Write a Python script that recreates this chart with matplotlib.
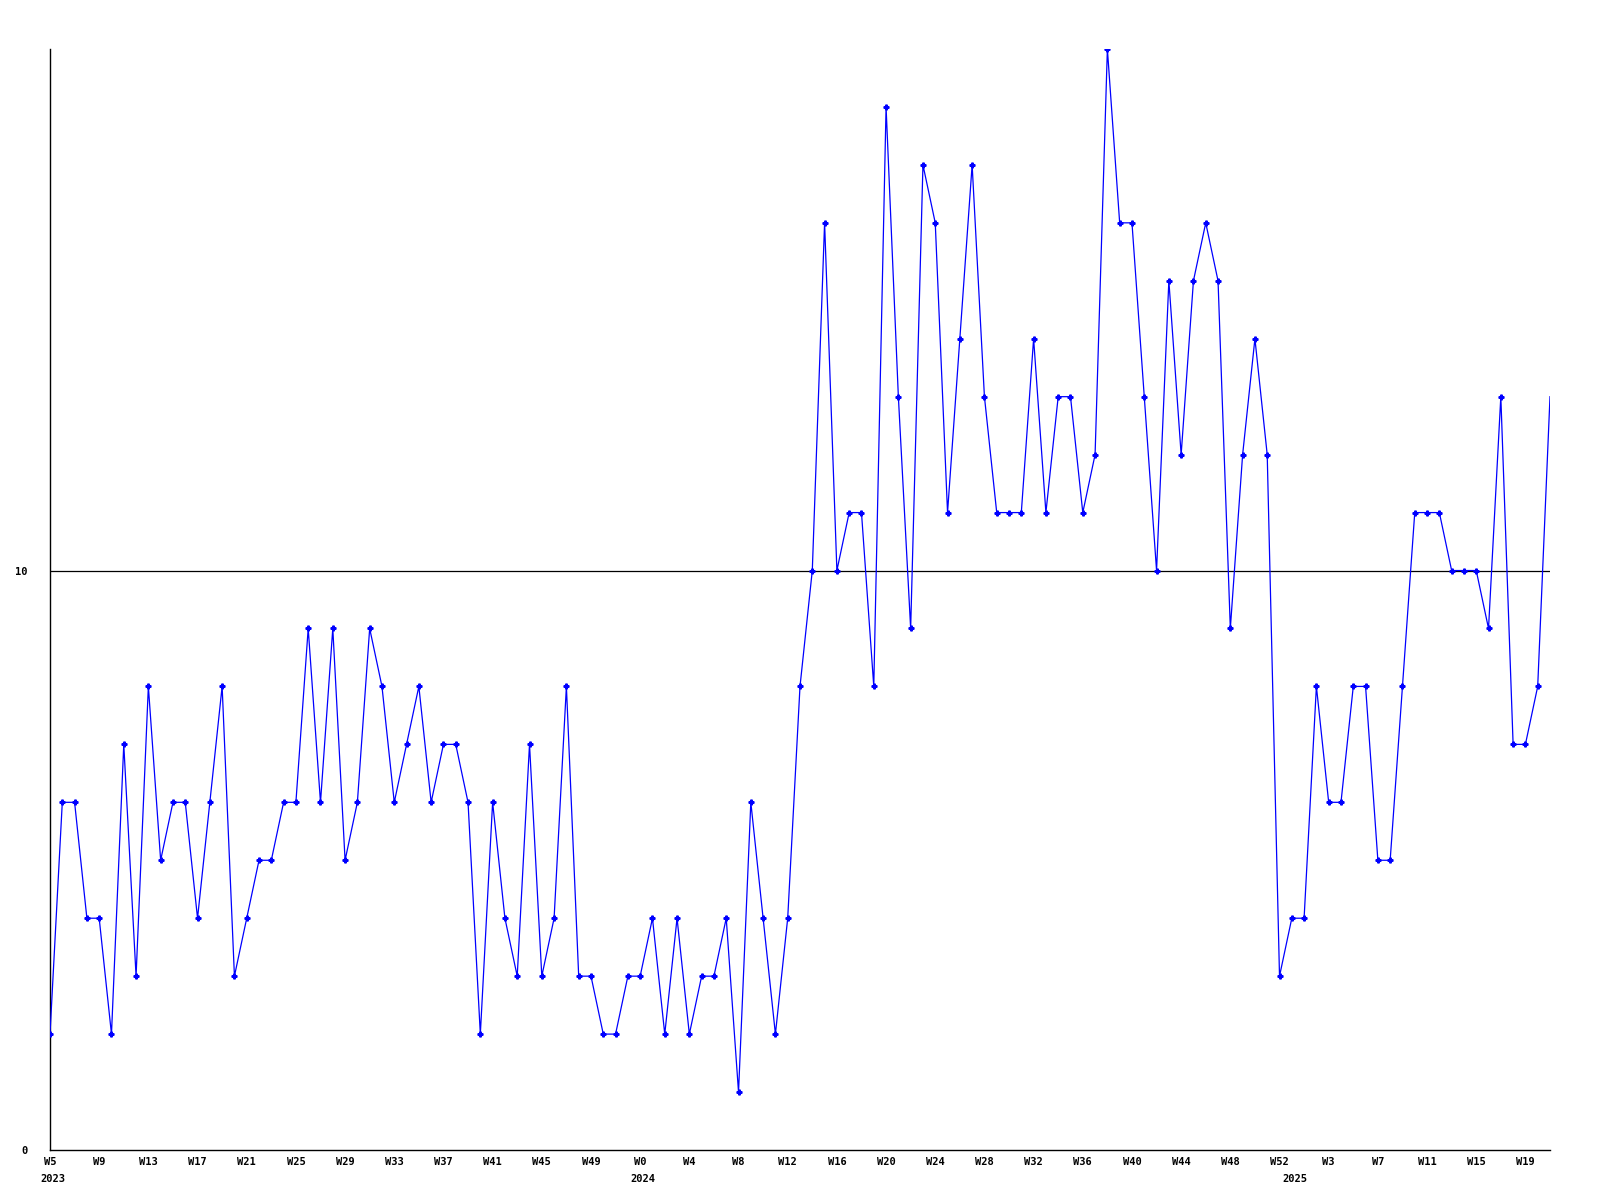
"""Weekly count line chart, 2023 W5 .. 2025 W21."""

import matplotlib
matplotlib.use("Agg")
import matplotlib.pyplot as plt

# weekly values, one per week starting 2023 W5
values = [
    2, 6, 6, 4, 4, 2, 7, 3, 8, 5,
    6, 6, 4, 6, 8, 3, 4, 5, 5, 6,
    6, 9, 6, 9, 5, 6, 9, 8, 6, 7,
    8, 6, 7, 7, 6, 2, 6, 4, 3, 7,
    3, 4, 8, 3, 3, 2, 2, 3, 3, 4,
    2, 4, 2, 3, 3, 4, 1, 6, 4, 2,
    4, 8, 10, 16, 10, 11, 11, 8, 18, 13,
    9, 17, 16, 11, 14, 17, 13, 11, 11, 11,
    14, 11, 13, 13, 11, 12, 19, 16, 16, 13,
    10, 15, 12, 15, 16, 15, 9, 12, 14, 12,
    3, 4, 4, 8, 6, 6, 8, 8, 5, 5,
    8, 11, 11, 11, 10, 10, 10, 9, 13, 7,
    7, 8, 13,
]

# (year, first week, last week) spans covered by the series
year_spans = [(2023, 5, 52), (2024, 0, 52), (2025, 0, 21)]
week_labels = []
year_starts = []
year_names = []
for year, w0, w1 in year_spans:
    year_starts.append(len(week_labels))
    year_names.append(str(year))
    week_labels += ["W%d" % w for w in range(w0, w1 + 1)]

ref_level = 10
y_ticks = [0, 10]
label_step = 4


def main():
    fig = plt.figure(figsize=(16, 12), dpi=100)
    ax = fig.add_axes([50 / 1600, 1 - 1150 / 1200, 1500 / 1600, 1101 / 1200])

    x = list(range(len(values)))
    ax.axhline(ref_level, color="black", lw=0.9, zorder=1)
    ax.plot(x, values, color="#0000ff", lw=0.9, marker="P", ms=3.5,
            mec="#0000ff", mfc="#0000ff", markevery=list(range(len(values) - 1)),
            zorder=3)

    ax.set_xlim(0, len(values) - 1)
    ax.set_ylim(0, 19)

    font = dict(family="DejaVu Sans Mono", weight="bold", size=7.5)
    tick_pos = list(range(0, len(values), label_step))
    ax.set_xticks(tick_pos)
    ax.set_xticklabels([week_labels[i] for i in tick_pos], **font)
    ax.tick_params(axis="x", which="major", length=0, pad=5)

    # year names under the first week of each year
    for pos, name in zip(year_starts, year_names):
        ax.annotate(name, xy=(pos, 0), xycoords=("data", "axes fraction"),
                    xytext=(2, -17), textcoords="offset points",
                    ha="center", va="top", **font)

    ax.set_yticks(y_ticks)
    ax.set_yticklabels([str(v) for v in y_ticks], **font)
    ax.tick_params(axis="y", length=0, pad=16)

    for side in ("top", "right"):
        ax.spines[side].set_visible(False)
    ax.spines["left"].set_linewidth(1.0)
    ax.spines["bottom"].set_linewidth(1.0)

    fig.savefig("out.png", dpi=100)


if __name__ == "__main__":
    main()
